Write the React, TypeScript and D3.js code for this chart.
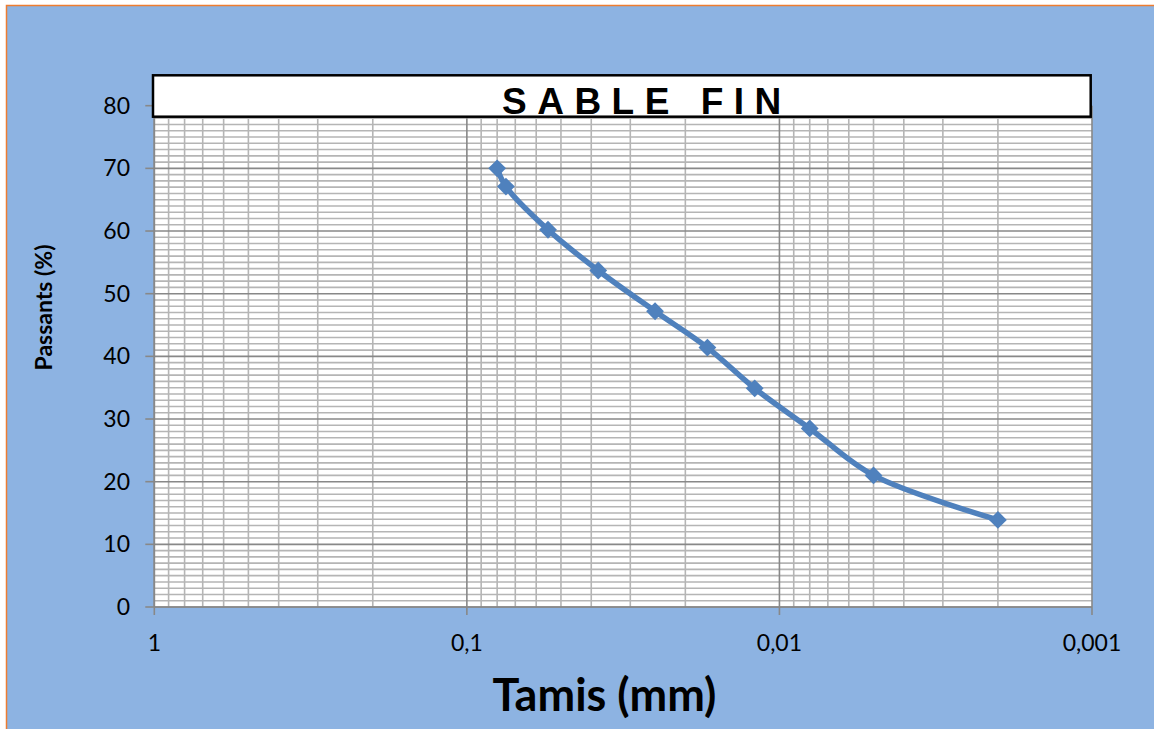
import React from "react";
import * as d3 from "d3";

const sieveSizes: number[] = [0.08, 0.075, 0.055, 0.038, 0.025, 0.017, 0.012, 0.008, 0.005, 0.002];
const passing: number[] = [70, 67.1, 60.2, 53.7, 47.2, 41.4, 34.9, 28.5, 21, 13.9];
const yTicks: number[] = [0, 10, 20, 30, 40, 50, 60, 70, 80];
const xTicks: number[] = [1, 0.1, 0.01, 0.001];
const xTickLabels: string[] = ["1", "0,1", "0,01", "0,001"];
const titleText = "SABLE FIN";
const xTitle = "Tamis (mm)";
const yTitle = "Passants (%)";

const W = 1154;
const H = 729;
const left = 154.3;
const right = 1092;
const top = 105.7;
const bottom = 607;

export default function App() {
  const x = d3.scaleLog().domain([1, 0.001]).range([left, right]);
  const y = d3.scaleLinear().domain([0, 80]).range([bottom, top]);

  const minorX: number[] = [];
  for (let e = 0; e > -3; e--) {
    const base = Math.pow(10, e - 1);
    for (let k = 2; k <= 9; k++) minorX.push(k * base);
  }
  const minorY = d3.range(0, 81, 1).filter((v) => v % 10 !== 0);

  const pts: [number, number][] = sieveSizes.map((s, i) => [x(s), y(passing[i])]);
  const line = d3.line().curve(d3.curveCatmullRom.alpha(0.5))(pts) || "";
  const fontUI = "Lato, 'Open Sans', sans-serif";

  return (
    <div style={{ position: "absolute", left: 0, top: 0 }}>
      <svg width={W} height={H} style={{ display: "block" }}>
        <rect x={0} y={0} width={W} height={H} fill="#ffffff" />
        <rect x={6.5} y={5.5} width={W + 10} height={H + 10} fill="#8DB3E2" stroke="#ED7D31" strokeWidth={1.5} />
        <rect x={left} y={top} width={right - left} height={bottom - top} fill="#ffffff" />
        {minorY.map((v) => (
          <line key={"my" + v} x1={left} x2={right} y1={y(v)} y2={y(v)} stroke="#B5B5B5" strokeWidth={1.6} />
        ))}
        {minorX.map((v, i) => (
          <line key={"mx" + i} x1={x(v)} x2={x(v)} y1={top} y2={bottom} stroke="#B5B5B5" strokeWidth={1.6} />
        ))}
        {yTicks.map((v) => (
          <line key={"Y" + v} x1={left} x2={right} y1={y(v)} y2={y(v)} stroke="#888888" strokeWidth={1.6} />
        ))}
        {xTicks.map((v) => (
          <line key={"X" + v} x1={x(v)} x2={x(v)} y1={top} y2={bottom} stroke="#888888" strokeWidth={1.6} />
        ))}
        <line x1={left} x2={left} y1={top} y2={bottom} stroke="#888888" strokeWidth={1.6} />
        <line x1={left} x2={right} y1={bottom} y2={bottom} stroke="#888888" strokeWidth={1.6} />
        {yTicks.map((v) => (
          <g key={"yt" + v}>
            <line x1={left - 9} x2={left} y1={y(v)} y2={y(v)} stroke="#888888" strokeWidth={1.6} />
            <text x={130} y={y(v) + 8} textAnchor="end" fontFamily={fontUI} fontSize={23} fill="#000">
              {v}
            </text>
          </g>
        ))}
        {xTicks.map((v, i) => (
          <g key={"xt" + v}>
            <line x1={x(v)} x2={x(v)} y1={bottom} y2={bottom + 8} stroke="#888888" strokeWidth={1.6} />
            <text x={x(v)} y={650.5} textAnchor="middle" fontFamily={fontUI} fontSize={23} fill="#000">
              {xTickLabels[i]}
            </text>
          </g>
        ))}
        <path d={line} fill="none" stroke="#4F81BD" strokeWidth={5.5} strokeLinejoin="round" />
        {pts.map((p, i) => (
          <rect
            key={"m" + i}
            x={p[0] - 6.3}
            y={p[1] - 6.3}
            width={12.6}
            height={12.6}
            fill="#4F81BD"
            transform={`rotate(45 ${p[0]} ${p[1]})`}
          />
        ))}
        <rect x={153} y={75.3} width={1090.7 - 153} height={116.7 - 75.3} fill="#ffffff" stroke="#000" strokeWidth={2.5} />
        <text
          x={502}
          y={114.3}
          fontFamily="Arial, 'Liberation Sans', sans-serif"
          fontWeight="bold"
          fontSize={37}
          letterSpacing={10.5}
          fill="#000"
        >
          {titleText}
        </text>
        <text x={604.5} y={711} textAnchor="middle" fontFamily={fontUI} fontWeight="bold" fontSize={45} fill="#000">
          {xTitle}
        </text>
        <text
          transform="translate(52 307.5) rotate(-90)"
          textAnchor="middle"
          fontFamily={fontUI}
          fontWeight="bold"
          fontSize={23}
          fill="#000"
        >
          {yTitle}
        </text>
      </svg>
    </div>
  );
}
